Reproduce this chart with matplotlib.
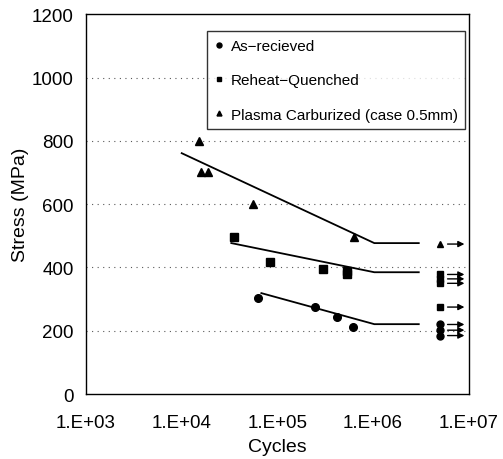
import matplotlib.pyplot as plt
from matplotlib.ticker import FixedLocator, FixedFormatter, NullLocator

plt.rcParams["font.family"] = ["Liberation Sans", "DejaVu Sans"]

# 疲労試験結果 (Cycles, Stress MPa)
as_received_n = [6.2e4, 2.5e5, 4.2e5, 6.2e5]
as_received_s = [303, 275, 243, 212]
reheat_n = [3.5e4, 8.3e4, 3.0e5, 5.3e5, 5.3e5]
reheat_s = [496, 417, 395, 390, 380]
plasma_n = [1.5e4, 1.6e4, 1.9e4, 5.6e4, 6.3e5]
plasma_s = [800, 700, 700, 600, 496]

# 未破断 (run-out) 試験片
runout_n = 5e6
as_received_runout = [220, 202, 185]
reheat_runout = [378, 364, 350, 275]
plasma_runout = [474]

# S-N 曲線の折れ線 (傾斜部 + 水平部)
as_received_fit_n = [6.8e4, 1.03e6, 3e6]
as_received_fit_s = [319, 221, 221]
reheat_fit_n = [3.3e4, 1.03e6, 3e6]
reheat_fit_s = [477, 385, 385]
plasma_fit_n = [1.0e4, 1.03e6, 3e6]
plasma_fit_s = [761, 477, 477]

xticks = [1e3, 1e4, 1e5, 1e6, 1e7]
xtick_labels = ["1.E+03", "1.E+04", "1.E+05", "1.E+06", "1.E+07"]
yticks = [0, 200, 400, 600, 800, 1000, 1200]

fig = plt.figure(figsize=(5.03, 4.60), dpi=100)
ax = fig.add_axes([0.171, 0.141, 0.761, 0.826])

ax.set_xscale("log")
ax.set_xlim(1e3, 1e7)
ax.set_ylim(0, 1200)

# 点線のグリッド
for y in yticks[1:-1]:
    ax.axhline(y, color="0.35", lw=0.8, ls=(0, (1, 4)), zorder=1)

ms = 5.5
ax.plot(as_received_n, as_received_s, "o", color="black", ms=ms, label="As\u2212recieved", zorder=3)
ax.plot(reheat_n, reheat_s, "s", color="black", ms=ms, label="Reheat\u2212Quenched", zorder=3)
ax.plot(plasma_n, plasma_s, "^", color="black", ms=ms, label="Plasma Carburized (case 0.5mm)", zorder=3)

ax.plot(as_received_fit_n, as_received_fit_s, color="black", lw=1.3, zorder=2)
ax.plot(reheat_fit_n, reheat_fit_s, color="black", lw=1.3, zorder=2)
ax.plot(plasma_fit_n, plasma_fit_s, color="black", lw=1.3, zorder=2)

# run-out の印と矢印
for vals, mk in [(as_received_runout, "o"), (reheat_runout, "s"), (plasma_runout, "^")]:
    for s in vals:
        ax.plot(runout_n, s, mk, color="black", ms=ms - 0.5, zorder=3)
        ax.annotate("", xy=(9.0e6, s), xytext=(6.0e6, s),
                    arrowprops=dict(arrowstyle="-|>", color="black", lw=1.0,
                                    mutation_scale=9, shrinkA=0, shrinkB=0))

ax.xaxis.set_major_locator(FixedLocator(xticks))
ax.xaxis.set_major_formatter(FixedFormatter(xtick_labels))
ax.xaxis.set_minor_locator(NullLocator())
ax.set_yticks(yticks)
ax.tick_params(axis="both", length=0, labelsize=13.5)
ax.tick_params(axis="x", pad=14)
ax.tick_params(axis="y", pad=9)

ax.set_xlabel("Cycles", fontsize=14, labelpad=5)
ax.set_ylabel("Stress (MPa)", fontsize=14, labelpad=2)

for sp in ax.spines.values():
    sp.set_color("black")
    sp.set_linewidth(1.0)

leg = ax.legend(loc="upper left", bbox_to_anchor=(0.316, 0.955), fontsize=11,
                frameon=True, fancybox=False, edgecolor="black", markerscale=0.65,
                handlelength=0.6, handletextpad=0.45, labelspacing=1.33,
                borderpad=0.5, borderaxespad=0)
leg.get_frame().set_linewidth(1.0)

fig.savefig("out.png", dpi=100)
